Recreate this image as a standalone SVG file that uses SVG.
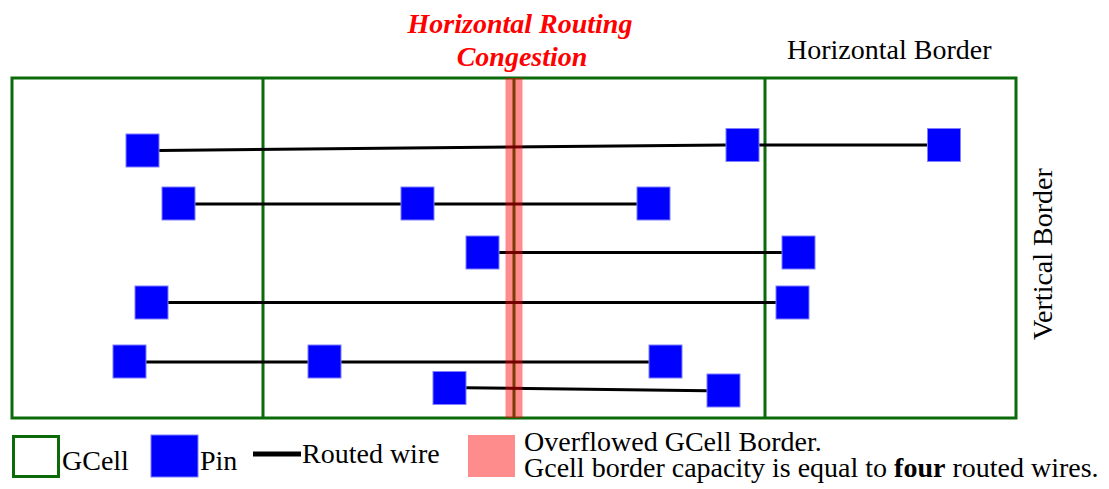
<svg xmlns="http://www.w3.org/2000/svg" width="1109" height="489" viewBox="0 0 1109 489">
  <style>
    .cell { fill: none; stroke: #0b6b0b; stroke-width: 3; }
    .pin { fill: #0000ff; stroke: #7f7fff; stroke-width: 1; }
    .wire { stroke: #000; stroke-width: 3; fill: none; }
    .label { font-family: "Liberation Serif", "Times New Roman", serif; font-size: 28px; fill: #000; }
    .hot { font-family: "Liberation Serif", "Times New Roman", serif; font-size: 28px; font-weight: bold; font-style: italic; fill: #ff0000; }
    .overflow { fill: #ff0000; fill-opacity: 0.45; }
  </style>

  <!-- GCell grid -->
  <g id="gcells">
    <rect class="cell" x="12" y="78" width="1004" height="340"/>
    <line class="cell" x1="263" y1="78" x2="263" y2="418"/>
    <line class="cell" x1="514" y1="78" x2="514" y2="418"/>
    <line class="cell" x1="765" y1="78" x2="765" y2="418"/>
  </g>

  <!-- routed wires -->
  <g id="connectors">
    <polyline class="wire" points="159,150.5 726,145"/>
    <line class="wire" x1="759" y1="145" x2="927" y2="145"/>
    <line class="wire" x1="195" y1="204" x2="401" y2="204"/>
    <line class="wire" x1="434" y1="204" x2="637" y2="204"/>
    <line class="wire" x1="499" y1="252.5" x2="782" y2="252.5"/>
    <line class="wire" x1="168" y1="302.5" x2="776" y2="302.5"/>
    <line class="wire" x1="146" y1="362" x2="308" y2="362"/>
    <line class="wire" x1="341" y1="362" x2="649" y2="362"/>
    <line class="wire" x1="466" y1="387.7" x2="707" y2="390.7"/>
  </g>

  <!-- pins -->
  <g id="pin-r1a"><rect class="pin" x="126" y="134" width="33" height="33"/></g>
  <g id="pin-r1b"><rect class="pin" x="726" y="128.5" width="33" height="33"/></g>
  <g id="pin-r1c"><rect class="pin" x="927.5" y="128.5" width="33" height="33"/></g>
  <g id="pin-r2a"><rect class="pin" x="162" y="187" width="33" height="33"/></g>
  <g id="pin-r2b"><rect class="pin" x="401" y="187" width="33" height="33"/></g>
  <g id="pin-r2c"><rect class="pin" x="637" y="187" width="33" height="33"/></g>
  <g id="pin-r3a"><rect class="pin" x="466" y="236" width="33" height="33"/></g>
  <g id="pin-r3b"><rect class="pin" x="782" y="236" width="33" height="33"/></g>
  <g id="pin-r4a"><rect class="pin" x="135" y="286" width="33" height="33"/></g>
  <g id="pin-r4b"><rect class="pin" x="776" y="286" width="33" height="33"/></g>
  <g id="pin-r5a"><rect class="pin" x="113" y="345" width="33" height="33"/></g>
  <g id="pin-r5b"><rect class="pin" x="308" y="345" width="33" height="33"/></g>
  <g id="pin-r5c"><rect class="pin" x="649" y="345" width="33" height="33"/></g>
  <g id="pin-r6a"><rect class="pin" x="433" y="371.5" width="33" height="33"/></g>
  <g id="pin-r6b"><rect class="pin" x="707" y="374" width="33" height="33"/></g>

  <!-- overflowed border highlight -->
  <g id="congestion">
    <rect class="overflow" x="505.5" y="78" width="17" height="340"/>
    <text class="hot" x="520" y="33" text-anchor="middle">Horizontal Routing</text>
    <text class="hot" x="522" y="66" text-anchor="middle">Congestion</text>
  </g>

  <!-- border labels -->
  <g id="border-labels">
    <text class="label" x="787" y="59">Horizontal Border</text>
    <text class="label" transform="translate(1052,340) rotate(-90)">Vertical Border</text>
  </g>

  <!-- legend -->
  <g id="legend">
    <rect class="cell" x="13.5" y="436.5" width="45" height="40"/>
    <text class="label" x="62" y="470">GCell</text>
    <rect class="pin" x="151" y="435" width="47" height="42"/>
    <text class="label" x="200" y="470">Pin</text>
    <line x1="253" y1="454" x2="301" y2="454" stroke="#000" stroke-width="5"/>
    <text class="label" x="302" y="463">Routed wire</text>
    <rect class="overflow" x="468" y="435" width="47" height="42"/>
    <text class="label" x="524" y="451">Overflowed GCell Border.</text>
    <text class="label" x="524" y="477">Gcell border capacity is equal to <tspan font-weight="bold">four</tspan> routed wires.</text>
  </g>
</svg>
